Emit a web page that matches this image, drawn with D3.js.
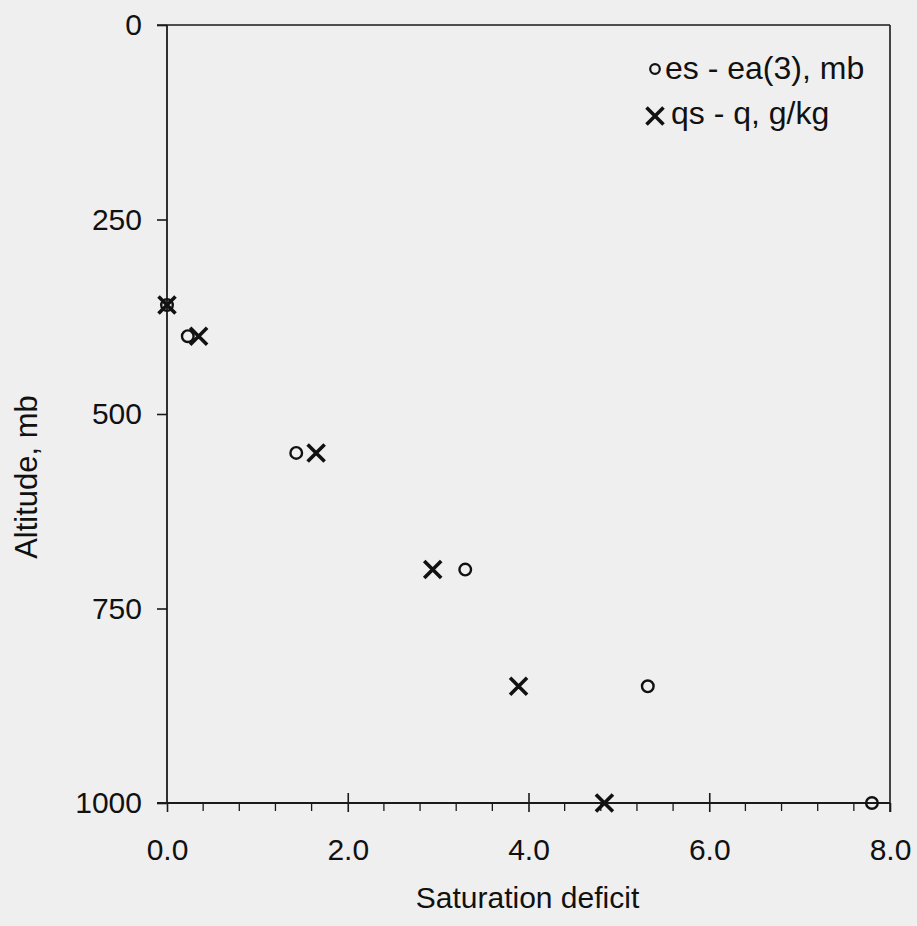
<!DOCTYPE html>
<html>
<head>
<meta charset="utf-8">
<script src="https://cdn.jsdelivr.net/npm/d3@7"></script>
<style>
  html, body { margin: 0; padding: 0; background: #efefef; }
  svg { display: block; }
  text { font-family: "Liberation Sans", Arial, sans-serif; fill: #111; }
</style>
</head>
<body>
<svg id="chart" width="917" height="926"></svg>
<script>
// ---- data ----
const altitude = [360, 400, 550, 700, 850, 1000];
const esMinusEa = [0.0, 0.23, 1.43, 3.30, 5.32, 7.80];
const qsMinusQ = [0.0, 0.35, 1.65, 2.94, 3.89, 4.84];
const xTicks = [0, 2, 4, 6, 8];
const xMinorTicks = [0.4, 0.8, 1.2, 1.6, 2.4, 2.8, 3.2, 3.6, 4.4, 4.8, 5.2, 5.6, 6.4, 6.8, 7.2, 7.6];
const yTicks = [0, 250, 500, 750, 1000];
const seriesNames = ["es - ea(3), mb", "qs - q, g/kg"];
const xTitle = "Saturation deficit";
const yTitle = "Altitude, mb";

// ---- layout ----
const svg = d3.select("#chart");
const pLeft = 167, pRight = 890, pTop = 25, pBottom = 803;
const x = d3.scaleLinear().domain([0, 8]).range([pLeft, pRight]);
const y = d3.scaleLinear().domain([0, 1000]).range([pTop, pBottom]);
const ink = "#1a1a1a";

// frame (top & right)
svg.append("line").attr("x1", pLeft - 10).attr("x2", pRight).attr("y1", pTop).attr("y2", pTop)
  .attr("stroke", ink).attr("stroke-width", 1.6);
svg.append("line").attr("x1", pRight).attr("x2", pRight).attr("y1", pTop).attr("y2", pBottom + 9)
  .attr("stroke", ink).attr("stroke-width", 1.6);

// y axis
const yAxis = d3.axisLeft(y).tickValues(yTicks).tickSize(10).tickPadding(15).tickFormat(d3.format("d"));
const gy = svg.append("g").attr("transform", `translate(${pLeft},0)`).call(yAxis);
gy.select(".domain").attr("stroke", ink).attr("stroke-width", 1.8).attr("d", `M0,${pTop}V${pBottom}`);
gy.selectAll(".tick line").attr("stroke", ink).attr("stroke-width", 1.6);
gy.selectAll(".tick text").style("font-size", "30px").attr("fill", "#111")
  .style("font-family", "'Liberation Sans', Arial, sans-serif");

// x axis
const xAxis = d3.axisBottom(x).tickValues(xTicks).tickSize(9).tickPadding(27).tickFormat(d3.format(".1f"));
const gx = svg.append("g").attr("transform", `translate(0,${pBottom})`).call(xAxis);
gx.select(".domain").attr("stroke", ink).attr("stroke-width", 1.8).attr("d", `M${pLeft - 10},0H${pRight}`);
gx.selectAll(".tick line").attr("stroke", ink).attr("stroke-width", 1.6)
  .attr("y1", d => (d === 0 || d === 8) ? 0 : -10);
gx.selectAll(".tick text").style("font-size", "30px").attr("fill", "#111")
  .style("font-family", "'Liberation Sans', Arial, sans-serif");
// minor ticks
svg.append("g").selectAll("line").data(xMinorTicks).join("line")
  .attr("x1", d => x(d)).attr("x2", d => x(d)).attr("y1", pBottom).attr("y2", pBottom + 8)
  .attr("stroke", ink).attr("stroke-width", 1.3);

// titles
svg.append("text").attr("x", (pLeft + pRight) / 2 - 1).attr("y", 908).attr("text-anchor", "middle")
  .style("font-size", "30px").text(xTitle);
svg.append("text").attr("transform", `translate(37,${477}) rotate(-90)`).attr("text-anchor", "middle")
  .style("font-size", "31px").text(yTitle);

// markers
function cross(g, cx, cy, h) {
  g.append("path").attr("d", `M${cx - h},${cy - h}L${cx + h},${cy + h}M${cx - h},${cy + h}L${cx + h},${cy - h}`)
    .attr("stroke", "#111").attr("stroke-width", 3.6).attr("fill", "none");
}
const gm = svg.append("g");
altitude.forEach((a, i) => {
  gm.append("circle").attr("cx", x(esMinusEa[i])).attr("cy", y(a)).attr("r", 5.8)
    .attr("fill", "none").attr("stroke", "#111").attr("stroke-width", 2.4);
});
altitude.forEach((a, i) => cross(gm, x(qsMinusQ[i]), y(a), 8.5));

// legend
const lg = svg.append("g");
lg.append("circle").attr("cx", 655).attr("cy", 69).attr("r", 4.8)
  .attr("fill", "none").attr("stroke", "#111").attr("stroke-width", 2.2);
lg.append("text").attr("x", 665).attr("y", 79).style("font-size", "32px").text(seriesNames[0]);
cross(lg, 655, 116, 8.5);
lg.append("text").attr("x", 671).attr("y", 124).style("font-size", "32px").text(seriesNames[1]);
</script>
</body>
</html>
